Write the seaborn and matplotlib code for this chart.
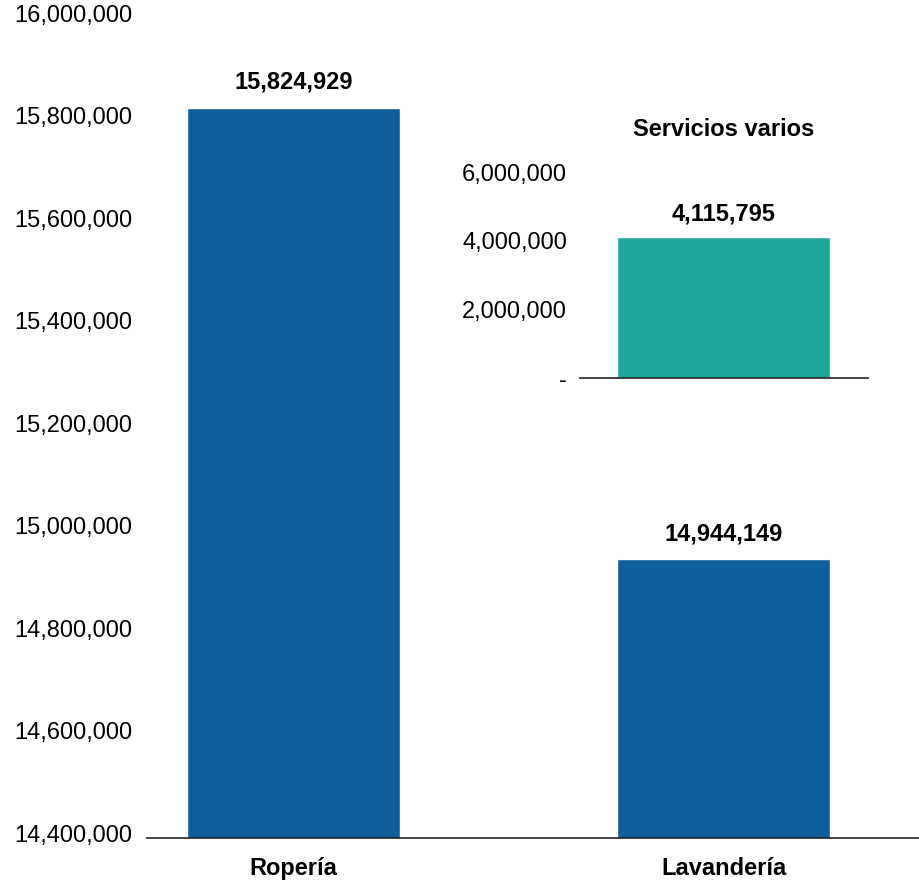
import matplotlib
matplotlib.use("Agg")
import matplotlib.pyplot as plt
import matplotlib.transforms as mtransforms
import seaborn as sns
from matplotlib.ticker import FuncFormatter, MultipleLocator

# data
categories = ["Ropería", "Lavandería"]
values = [15824929, 14944149]
inset_category = ["Servicios varios"]
inset_values = [4115795]

blue = "#0f5e9c"
teal = "#1ba89b"

sns.set_style("white")
plt.rcParams["font.family"] = ["Liberation Sans", "DejaVu Sans"]
plt.rcParams["font.size"] = 17
plt.rcParams["text.color"] = "black"
plt.rcParams["xtick.color"] = "black"
plt.rcParams["ytick.color"] = "black"

fig = plt.figure(figsize=(9.2, 8.94), dpi=100)

# main chart
ax = fig.add_axes([0.16, 0.0626, 0.84, 0.9172])
sns.barplot(x=categories, y=values, color=blue, width=0.495, saturation=1, ax=ax)
ax.set_ylim(14400000, 16000000)
ax.set_xlim(-0.341, 1.457)
ax.yaxis.set_major_locator(MultipleLocator(200000))
ax.yaxis.set_major_formatter(FuncFormatter(lambda v, p: f"{v:,.0f}"))
ax.tick_params(axis="y", length=0, pad=11, labelsize=17)
ax.tick_params(axis="x", length=0, pad=14, labelsize=17)
# labels sit a little above their gridline in the original
shift = mtransforms.ScaledTranslation(0, 5 / 100, fig.dpi_scale_trans)
for lbl in ax.get_yticklabels():
    lbl.set_transform(lbl.get_transform() + shift)
for lbl in ax.get_xticklabels():
    lbl.set_fontweight("bold")
for s in ["top", "right", "left"]:
    ax.spines[s].set_visible(False)
ax.spines["bottom"].set_color("#222222")
ax.spines["bottom"].set_linewidth(1.2)
ax.set_xlabel("")
ax.set_ylabel("")
ax.bar_label(ax.containers[0], labels=[f"{v:,.0f}" for v in values],
             padding=10, fontweight="bold", fontsize=17)

# inset chart
ins = fig.add_axes([0.630, 0.577, 0.313, 0.2304])
sns.barplot(x=inset_category, y=inset_values, color=teal, width=0.74, saturation=1, ax=ins)
ins.set_ylim(0, 6000000)
ins.set_xlim(-0.5, 0.5)
ins.yaxis.set_major_locator(MultipleLocator(2000000))
ins.yaxis.set_major_formatter(FuncFormatter(lambda v, p: "-" if v == 0 else f"{v:,.0f}"))
ins.tick_params(axis="y", length=0, pad=9, labelsize=17)
ins.set_xticks([])
for s in ["top", "right", "left"]:
    ins.spines[s].set_visible(False)
ins.spines["bottom"].set_color("#222222")
ins.spines["bottom"].set_linewidth(1.2)
ins.set_xlabel("")
ins.set_ylabel("")
ins.set_facecolor("none")
ins.set_title("Servicios varios", fontweight="bold", fontsize=17, pad=26)
ins.bar_label(ins.containers[0], labels=[f"{v:,.0f}" for v in inset_values],
              padding=8, fontweight="bold", fontsize=17)

fig.savefig("out.png", dpi=100)
